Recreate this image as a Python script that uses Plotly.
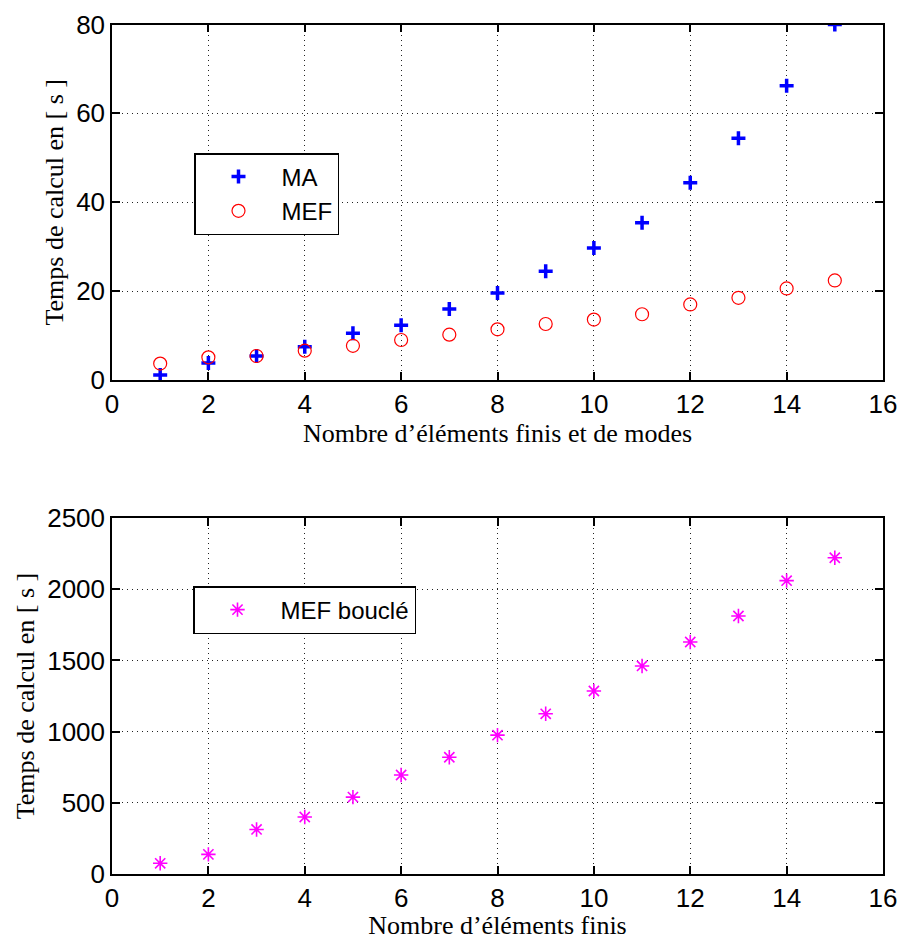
import plotly.graph_objects as go

x_vals = list(range(1, 16))
ma_vals = [1.1, 3.8, 5.4, 7.5, 10.5, 12.3, 16.0, 19.6, 24.5, 29.7, 35.4, 44.4, 54.4, 66.2, 80.0]
mef_vals = [3.7, 5.1, 5.4, 6.6, 7.7, 9.0, 10.2, 11.4, 12.6, 13.6, 14.8, 17.0, 18.5, 20.6, 22.4]
mefb_vals = [75, 138, 313, 400, 540, 695, 820, 975, 1125, 1285, 1461, 1629, 1812, 2060, 2221]

x_ticks = [0, 2, 4, 6, 8, 10, 12, 14, 16]
y1_ticks = [0, 20, 40, 60, 80]
y2_ticks = [0, 500, 1000, 1500, 2000, 2500]

W, H = 901, 940
fig = go.Figure()

fig.add_trace(go.Scatter(x=x_vals, y=ma_vals, mode="markers", name="MA",
                         marker=dict(symbol="cross-thin-open", size=10, color="#0000ff",
                                     line=dict(width=3.5, color="#0000ff")),
                         xaxis="x", yaxis="y", legend="legend"))
fig.add_trace(go.Scatter(x=x_vals, y=mef_vals, mode="markers", name="MEF",
                         marker=dict(symbol="circle-open", size=13, color="#ff0000",
                                     line=dict(width=1.2, color="#ff0000")),
                         xaxis="x", yaxis="y", legend="legend"))
fig.add_trace(go.Scatter(x=x_vals, y=mefb_vals, mode="markers", name="MEF bouclé",
                         marker=dict(symbol="asterisk-open", size=12, color="#ff00ff",
                                     line=dict(width=1.6, color="#ff00ff")),
                         xaxis="x2", yaxis="y2", legend="legend2"))

tickfont = dict(family="Liberation Sans, Arial", size=26, color="black")
titlefont = dict(family="Liberation Serif, Times New Roman", size=26, color="black")

common_axis = dict(showline=True, linecolor="black", linewidth=1.5, mirror="allticks",
                   ticks="inside", ticklen=8, tickwidth=1.5, tickcolor="black",
                   showgrid=True, gridcolor="#222222", griddash="1px,4px", gridwidth=1.2,
                   zeroline=False, tickfont=tickfont, automargin=False)

xd = [112 / W, 883 / W]
legend_font = dict(family="Liberation Sans, Arial", size=24, color="black")
fig.update_layout(
    width=W, height=H,
    margin=dict(l=0, r=0, t=0, b=0),
    paper_bgcolor="white", plot_bgcolor="white",
    xaxis=dict(domain=xd, range=[0, 16], tickvals=x_ticks, anchor="y",
               title=dict(text="Nombre d’éléments finis et de modes", font=titlefont, standoff=2),
               **common_axis),
    yaxis=dict(domain=[1 - 380 / H, 1 - 24.5 / H], range=[0, 80], tickvals=y1_ticks, anchor="x",
               title=dict(text="Temps de calcul en [ s ]", font=titlefont, standoff=5),
               **common_axis),
    xaxis2=dict(domain=xd, range=[0, 16], tickvals=x_ticks, anchor="y2",
                title=dict(text="Nombre d’éléments finis", font=titlefont, standoff=2),
                **common_axis),
    yaxis2=dict(domain=[1 - 874 / H, 1 - 518 / H], range=[0, 2500], tickvals=y2_ticks, anchor="x2",
                title=dict(text="Temps de calcul en [ s ]", font=titlefont, standoff=5),
                **common_axis),
    legend=dict(x=194 / W, y=1 - 153 / H, xanchor="left", yanchor="top",
                bgcolor="white", bordercolor="black", borderwidth=1.5,
                font=legend_font, itemwidth=76, tracegroupgap=0),
    legend2=dict(x=193 / W, y=1 - 586 / H, xanchor="left", yanchor="top",
                 bgcolor="white", bordercolor="black", borderwidth=1.5,
                 font=legend_font, itemwidth=76),
    showlegend=True,
)

fig.write_html("out.html", config={"displayModeBar": False},
               post_script="document.body.style.margin='0px';document.body.style.padding='0px';")
